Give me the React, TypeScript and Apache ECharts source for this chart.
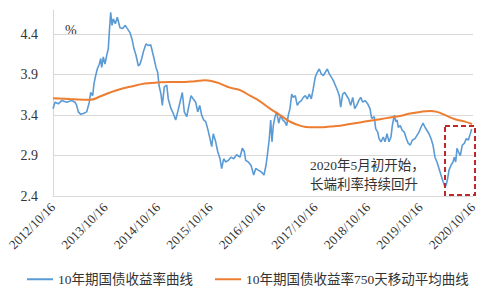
import React, { useEffect, useRef } from "react";
import * as echarts from "echarts";

// x: years elapsed since 2012/10/16
const yieldX = [0,0.038,0.101,0.166,0.261,0.356,0.419,0.451,0.482,0.528,0.577,0.642,0.691,0.718,0.756,0.781,0.813,0.844,0.882,0.909,0.928,0.958,0.99,1.023,1.053,1.072,1.099,1.124,1.149,1.187,1.225,1.276,1.328,1.377,1.415,1.467,1.505,1.543,1.581,1.625,1.657,1.69,1.72,1.771,1.823,1.861,1.91,1.962,1.994,2.019,2.057,2.082,2.12,2.166,2.196,2.248,2.291,2.337,2.375,2.419,2.463,2.501,2.547,2.59,2.629,2.672,2.718,2.756,2.794,2.832,2.87,2.909,2.947,2.99,3.023,3.053,3.099,3.137,3.181,3.213,3.251,3.29,3.339,3.39,3.442,3.499,3.562,3.606,3.644,3.67,3.72,3.771,3.823,3.861,3.91,3.962,3.994,4.019,4.057,4.082,4.12,4.147,4.171,4.196,4.229,4.261,4.299,4.337,4.375,4.413,4.451,4.482,4.514,4.547,4.577,4.615,4.653,4.691,4.73,4.768,4.806,4.844,4.882,4.92,4.958,4.996,5.034,5.072,5.11,5.149,5.187,5.225,5.263,5.301,5.339,5.377,5.415,5.453,5.48,5.518,5.556,5.594,5.632,5.67,5.709,5.747,5.785,5.823,5.861,5.899,5.943,5.994,6.038,6.07,6.12,6.147,6.185,6.21,6.248,6.291,6.324,6.362,6.4,6.438,6.463,6.501,6.528,6.552,6.577,6.615,6.653,6.691,6.73,6.768,6.806,6.844,6.895,6.933,6.971,7.01,7.048,7.086,7.124,7.162,7.2,7.238,7.276,7.314,7.352,7.39,7.429,7.467,7.491,7.518,7.543,7.581,7.619,7.644,7.67,7.695,7.72,7.758,7.796,7.834,7.872,7.91,7.949,7.975];
const yieldY = [3.48,3.56,3.54,3.58,3.56,3.58,3.56,3.52,3.44,3.41,3.42,3.44,3.56,3.68,3.64,3.79,3.89,3.97,4.03,4.10,3.99,4.12,4.03,4.14,4.22,4.42,4.67,4.51,4.59,4.53,4.61,4.48,4.47,4.51,4.47,4.42,4.34,4.22,4.14,4.01,4.03,4.10,4.18,4.28,4.26,4.27,4.14,3.99,3.93,3.77,3.66,3.52,3.75,3.77,3.60,3.48,3.42,3.34,3.44,3.56,3.68,3.44,3.38,3.52,3.64,3.60,3.56,3.44,3.52,3.40,3.34,3.32,3.23,3.11,3.01,3.17,3.07,2.95,2.86,2.74,2.86,2.82,2.84,2.88,2.86,2.91,2.88,2.99,2.95,2.84,2.82,2.78,2.66,2.74,2.72,2.70,2.68,2.66,2.78,2.90,3.11,3.34,3.07,3.27,3.38,3.44,3.30,3.40,3.34,3.32,3.27,3.40,3.48,3.66,3.62,3.64,3.52,3.56,3.58,3.62,3.64,3.60,3.66,3.60,3.73,3.87,3.93,3.97,3.91,3.89,3.93,3.97,3.91,3.87,3.83,3.77,3.71,3.64,3.50,3.66,3.68,3.64,3.60,3.52,3.62,3.48,3.52,3.58,3.62,3.56,3.58,3.54,3.48,3.36,3.38,3.23,3.19,3.11,3.07,3.13,3.07,3.17,3.07,3.13,3.27,3.40,3.32,3.34,3.25,3.27,3.21,3.19,3.11,3.05,3.03,3.09,3.11,3.15,3.19,3.25,3.30,3.25,3.21,3.17,3.11,3.03,2.88,2.82,2.74,2.66,2.58,2.51,2.54,2.62,2.72,2.78,2.82,2.88,2.82,2.99,2.95,2.90,3.03,3.05,3.11,3.09,3.17,3.23];

const maX = [0,0.324,0.705,0.895,1.086,1.276,1.467,1.752,1.943,2.229,2.514,2.705,2.895,3.029,3.181,3.371,3.562,3.752,3.943,4.133,4.324,4.514,4.705,4.895,5.086,5.276,5.467,5.657,5.848,6.038,6.229,6.419,6.61,6.8,6.99,7.181,7.314,7.467,7.657,7.848,7.981];
const maY = [3.61,3.60,3.59,3.63,3.68,3.72,3.75,3.79,3.80,3.81,3.81,3.82,3.83,3.82,3.79,3.74,3.71,3.64,3.57,3.48,3.40,3.32,3.27,3.25,3.25,3.26,3.27,3.29,3.31,3.33,3.35,3.37,3.39,3.42,3.44,3.45,3.44,3.40,3.35,3.32,3.29];

const startYear = 2012;
const tickSuffix = "/10/16";
const seriesNames = ["10年期国债收益率曲线", "10年期国债收益率750天移动平均曲线"];
const noteText = "2020年5月初开始，\n长端利率持续回升";

const FONT = "'Liberation Serif', 'Noto Sans CJK SC', serif";

export default function App() {
  const ref = useRef<HTMLDivElement>(null);
  useEffect(() => {
    if (!ref.current) return;
    const chart = echarts.init(ref.current, undefined, { renderer: "svg" });
    const blue = yieldX.map((x, i) => [x, yieldY[i]]);
    const orange = maX.map((x, i) => [x, maY[i]]);
    chart.setOption({
      animation: false,
      backgroundColor: "#fff",
      grid: { left: 53, right: 27, top: 10, bottom: 99, containLabel: false },
      xAxis: {
        type: "value",
        min: 0,
        max: 8,
        interval: 1,
        axisLine: { show: true, lineStyle: { color: "#D9D9D9", width: 1 } },
        axisTick: { show: false },
        splitLine: { show: false },
        axisLabel: {
          rotate: 45,
          margin: 9,
          fontSize: 13,
          fontFamily: FONT,
          color: "#333",
          formatter: (v: number) => `${startYear + Math.round(v)}${tickSuffix}`,
        },
      },
      yAxis: {
        type: "value",
        min: 2.4,
        max: 4.7,
        interval: 0.5,
        axisLine: { show: true, lineStyle: { color: "#D9D9D9", width: 1 } },
        axisTick: { show: false },
        splitLine: { show: true, showMaxLine: false, lineStyle: { color: "#D9D9D9", width: 1 } },
        axisLabel: {
          showMaxLabel: false,
          margin: 15,
          fontSize: 14,
          fontFamily: FONT,
          color: "#333",
          formatter: (v: number) => v.toFixed(1),
        },
      },
      legend: {
        data: seriesNames,
        bottom: 4,
        left: 22,
        icon: "rect",
        itemWidth: 26,
        itemHeight: 2,
        itemGap: 22,
        textStyle: { fontSize: 13.5, fontFamily: FONT, color: "#333" },
      },
      series: [
        {
          name: seriesNames[0],
          type: "line",
          data: blue,
          showSymbol: false,
          symbol: "none",
          lineStyle: { color: "#5B9BD5", width: 1.6 },
          itemStyle: { color: "#5B9BD5" },
          z: 3,
        },
        {
          name: seriesNames[1],
          type: "line",
          data: orange,
          showSymbol: false,
          symbol: "none",
          smooth: true,
          lineStyle: { color: "#ED7D31", width: 2 },
          itemStyle: { color: "#ED7D31" },
          z: 4,
        },
      ],
      graphic: [
        {
          type: "text",
          left: 65,
          top: 23,
          style: { text: "%", fontSize: 14, fontFamily: FONT, fill: "#333" },
        },
        {
          type: "text",
          left: 310,
          top: 156,
          style: { text: noteText, fontSize: 13.5, lineHeight: 19, fontFamily: FONT, fill: "#333" },
        },
        {
          type: "rect",
          shape: { x: 445, y: 126, width: 30, height: 69 },
          style: { fill: "none", stroke: "#C0272D", lineWidth: 2, lineDash: [5, 3] },
          z: 10,
        },
      ],
    });
    return () => chart.dispose();
  }, []);
  return (
    <div
      ref={ref}
      style={{ position: "fixed", left: 0, top: 0, width: 500, height: 295, background: "#fff" }}
    />
  );
}
